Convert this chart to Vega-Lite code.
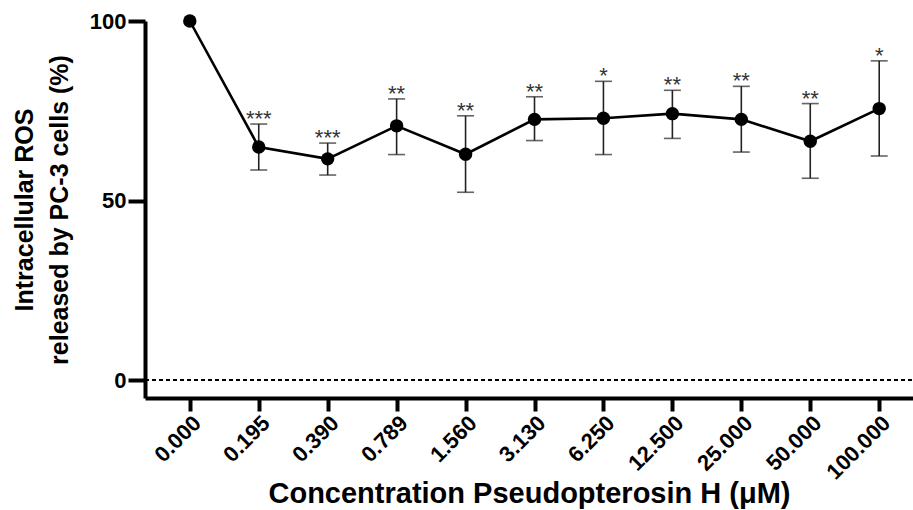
{
  "$schema": "https://vega.github.io/schema/vega-lite/v6.json",
  "autosize": "none",
  "padding": {"left": 145, "top": 21, "right": 0, "bottom": 112},
  "width": 768,
  "height": 377,
  "background": "white",
  "config": {
    "view": {"stroke": null},
    "font": "Liberation Sans"
  },
  "data": {
    "values": [
      {"conc": "0.000", "mean": 100, "lo": null, "hi": null, "sig": ""},
      {"conc": "0.195", "mean": 64.9, "lo": 58.5, "hi": 71.3, "sig": "***"},
      {"conc": "0.390", "mean": 61.6, "lo": 57.1, "hi": 66.0, "sig": "***"},
      {"conc": "0.789", "mean": 70.8, "lo": 62.8, "hi": 78.3, "sig": "**"},
      {"conc": "1.560", "mean": 62.9, "lo": 52.3, "hi": 73.6, "sig": "**"},
      {"conc": "3.130", "mean": 72.6, "lo": 66.7, "hi": 78.9, "sig": "**"},
      {"conc": "6.250", "mean": 72.9, "lo": 62.8, "hi": 83.2, "sig": "*"},
      {"conc": "12.500", "mean": 74.2, "lo": 67.3, "hi": 80.7, "sig": "**"},
      {"conc": "25.000", "mean": 72.6, "lo": 63.5, "hi": 81.8, "sig": "**"},
      {"conc": "50.000", "mean": 66.5, "lo": 56.2, "hi": 77.0, "sig": "**"},
      {"conc": "100.000", "mean": 75.6, "lo": 62.4, "hi": 88.9, "sig": "*"}
    ]
  },
  "encoding": {
    "x": {
      "field": "conc", "type": "ordinal", "sort": null,
      "scale": {
        "type": "point", "padding": 0.57, "align": 0.57,
        "domain": ["0.000", "0.195", "0.390", "0.789", "1.560", "3.130", "6.250", "12.500", "25.000", "50.000", "100.000"]
      },
      "axis": {
        "title": "Concentration Pseudopterosin H (μM)",
        "titleFontSize": 29, "titleFontWeight": "bold", "titleColor": "black",
        "titleY": 95, "titleBaseline": "middle",
        "labelAngle": -45, "labelAlign": "right", "labelBaseline": "top",
        "labelFontSize": 22, "labelFontWeight": "bold", "labelColor": "black",
        "labelPadding": 1,
        "domainColor": "black", "domainWidth": 4,
        "tickColor": "black", "tickWidth": 4, "tickSize": 13,
        "grid": false
      }
    }
  },
  "layer": [
    {
      "mark": {"type": "rule", "stroke": "black", "strokeWidth": 1.5, "strokeDash": [4, 3]},
      "encoding": {
        "y": {"datum": 0, "type": "quantitative"},
        "x": {"value": 0},
        "x2": {"value": 768}
      }
    },
    {
      "mark": {"type": "rule", "stroke": "#222", "strokeWidth": 1.6},
      "encoding": {
        "y": {"field": "lo", "type": "quantitative"},
        "y2": {"field": "hi"}
      }
    },
    {
      "mark": {"type": "tick", "color": "#222", "size": 17, "thickness": 1.6},
      "encoding": {"y": {"field": "lo", "type": "quantitative"}}
    },
    {
      "mark": {"type": "tick", "color": "#222", "size": 17, "thickness": 1.6},
      "encoding": {"y": {"field": "hi", "type": "quantitative"}}
    },
    {
      "mark": {"type": "line", "color": "black", "strokeWidth": 2.6},
      "encoding": {"y": {"field": "mean", "type": "quantitative"}}
    },
    {
      "mark": {"type": "point", "filled": true, "color": "black", "opacity": 1, "size": 180},
      "encoding": {
        "y": {
          "field": "mean", "type": "quantitative",
          "scale": {"domain": [-5, 100], "nice": false, "zero": false},
          "axis": {
            "title": ["Intracellular ROS", "released by PC-3 cells (%)"],
            "titleFontSize": 25, "titleFontWeight": "bold", "titleColor": "black",
            "titleLineHeight": 35, "titleAngle": -90,
            "titleX": -133, "titleBaseline": "top",
            "values": [0, 50, 100],
            "labelFontSize": 22, "labelFontWeight": "bold", "labelColor": "black",
            "labelPadding": 2,
            "domainColor": "black", "domainWidth": 4,
            "tickColor": "black", "tickWidth": 4, "tickSize": 17,
            "grid": false
          }
        }
      }
    },
    {
      "mark": {"type": "text", "fontSize": 22, "color": "#333", "baseline": "alphabetic", "dy": 2},
      "encoding": {
        "y": {"field": "hi", "type": "quantitative"},
        "text": {"field": "sig"}
      }
    }
  ]
}
